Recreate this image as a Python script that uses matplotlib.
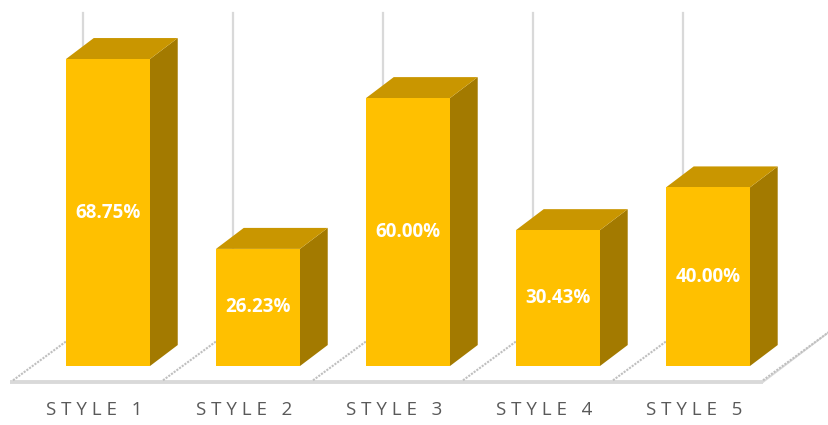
import matplotlib.pyplot as plt
from matplotlib.patches import Polygon

# data
categories = ['STYLE 1', 'STYLE 2', 'STYLE 3', 'STYLE 4', 'STYLE 5']
values = [68.75, 26.23, 60.00, 30.43, 40.00]
value_labels = ['68.75%', '26.23%', '60.00%', '30.43%', '40.00%']

FRONT = '#FFC000'
TOP = '#C99600'
SIDE = '#A37A00'
GRID = '#d9d9d9'

# geometry (category units / percent units)
half = 0.28          # half bar width
ddx, ddy = 0.185, 4.7    # bar depth offset
fdx, fdy = 0.467, 11.9   # floor depth offset
floor_y = -3.6

fig = plt.figure(figsize=(8.29, 4.25), dpi=100)
ax = fig.add_axes([0, 0, 1, 1])
ax.set_xlim(-0.72, 4.807)
ax.set_ylim(-13.21, 81.97)
ax.axis('off')

n = len(values)

# back wall vertical gridlines
for k in range(n + 1):
    x0 = -0.633 + k + fdx
    ax.plot([x0, x0], [floor_y + fdy, 79.0], color=GRID, lw=1.6, zorder=1)

# floor
x_left = -0.65
x_right = -0.633 + n
ax.plot([x_left, x_right], [floor_y, floor_y], color=GRID, lw=2.8,
        solid_capstyle='butt', zorder=2)
ax.plot([x_right, x_right + fdx], [floor_y, floor_y + fdy], color=GRID,
        lw=1.2, zorder=2)
for k in range(n + 1):
    x0 = -0.633 + k
    ax.plot([x0, x0 + fdx], [floor_y + 0.4, floor_y + fdy], color='#bfbfbf',
            lw=1.5, ls=(0, (1, 0.6)), zorder=2)

# bars
for i, v in enumerate(values):
    front = [(i - half, 0), (i + half, 0), (i + half, v), (i - half, v)]
    side = [(i + half, 0), (i + half + ddx, ddy), (i + half + ddx, v + ddy),
            (i + half, v)]
    top = [(i - half, v), (i + half, v), (i + half + ddx, v + ddy),
           (i - half + ddx, v + ddy)]
    ax.add_patch(Polygon(side, closed=True, fc=SIDE, ec='none', zorder=3))
    ax.add_patch(Polygon(top, closed=True, fc=TOP, ec='none', zorder=3))
    ax.add_patch(Polygon(front, closed=True, fc=FRONT, ec='none', zorder=4))
    ax.text(i, v / 2, value_labels[i], color='white', fontsize=13.5,
            fontweight='bold', family='Open Sans', ha='center', va='center',
            zorder=5)

# category labels with letter spacing
for i, c in enumerate(categories):
    word, num = c.split(' ')
    spaced = ' '.join(word) + '   ' + num
    ax.text(i - 0.093, -9.9, spaced, color='#595959', fontsize=13.5,
            family='Open Sans', ha='center', va='center')

fig.savefig('out.png', dpi=100)
